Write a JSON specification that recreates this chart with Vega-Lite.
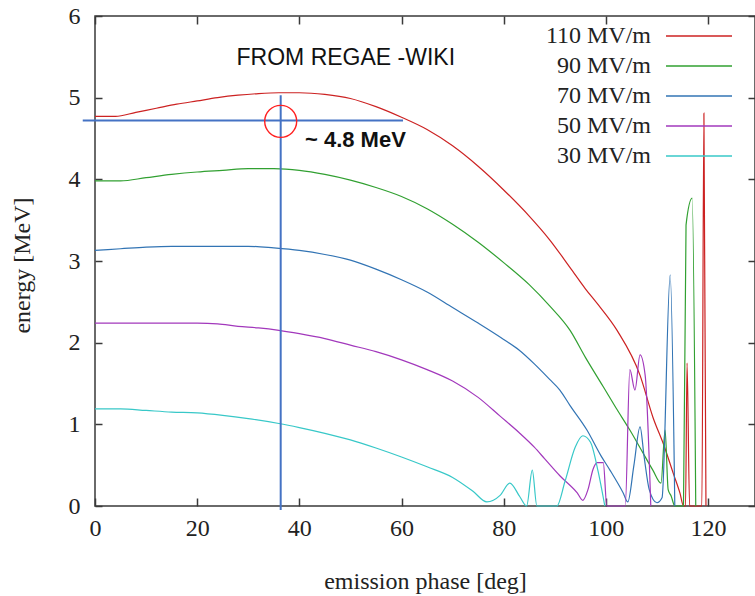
{
  "$schema": "https://vega.github.io/schema/vega-lite/v6.json",
  "width": 660,
  "height": 490,
  "autosize": {"type": "none"},
  "padding": {"left": 95, "top": 16, "right": 0, "bottom": 90},
  "background": "white",
  "config": {
    "view": {"stroke": "#3a3a3a", "strokeWidth": 1.5},
    "axis": {"grid": false, "domain": false, "tickColor": "#3a3a3a", "tickWidth": 1.5},
    "font": "Liberation Serif"
  },
  "resolve": {"axis": {"x": "independent", "y": "independent"}},
  "layer": [
    {
      "data": {
        "values": [
          {"p": 0, "e": 4.77, "s": "110 MV/m"}, {"p": 4, "e": 4.77, "s": "110 MV/m"}, {"p": 8, "e": 4.82, "s": "110 MV/m"},
          {"p": 12, "e": 4.87, "s": "110 MV/m"}, {"p": 16, "e": 4.92, "s": "110 MV/m"}, {"p": 20, "e": 4.96, "s": "110 MV/m"},
          {"p": 24, "e": 5.0, "s": "110 MV/m"}, {"p": 28, "e": 5.03, "s": "110 MV/m"}, {"p": 32, "e": 5.05, "s": "110 MV/m"},
          {"p": 36, "e": 5.06, "s": "110 MV/m"}, {"p": 40, "e": 5.06, "s": "110 MV/m"}, {"p": 45, "e": 5.04, "s": "110 MV/m"},
          {"p": 50, "e": 4.99, "s": "110 MV/m"}, {"p": 55, "e": 4.89, "s": "110 MV/m"}, {"p": 60, "e": 4.76, "s": "110 MV/m"},
          {"p": 65, "e": 4.61, "s": "110 MV/m"}, {"p": 70, "e": 4.41, "s": "110 MV/m"}, {"p": 75, "e": 4.16, "s": "110 MV/m"},
          {"p": 80, "e": 3.87, "s": "110 MV/m"}, {"p": 85, "e": 3.55, "s": "110 MV/m"}, {"p": 89, "e": 3.26, "s": "110 MV/m"},
          {"p": 93, "e": 2.92, "s": "110 MV/m"}, {"p": 96, "e": 2.66, "s": "110 MV/m"}, {"p": 98.3, "e": 2.48, "s": "110 MV/m"},
          {"p": 102.2, "e": 2.15, "s": "110 MV/m"}, {"p": 106.7, "e": 1.6, "s": "110 MV/m"}, {"p": 109.2, "e": 1.09, "s": "110 MV/m"},
          {"p": 111.5, "e": 0.72, "s": "110 MV/m"}, {"p": 113.2, "e": 0.4, "s": "110 MV/m"}, {"p": 114.5, "e": 0.16, "s": "110 MV/m"},
          {"p": 115.2, "e": 0, "s": "110 MV/m"}, {"p": 115.6, "e": 0, "s": "110 MV/m"}, {"p": 115.9, "e": 1.75, "s": "110 MV/m"},
          {"p": 116.4, "e": 0, "s": "110 MV/m"}, {"p": 118.8, "e": 0, "s": "110 MV/m"}, {"p": 119.2, "e": 4.81, "s": "110 MV/m"},
          {"p": 119.6, "e": 0, "s": "110 MV/m"},

          {"p": 0, "e": 3.98, "s": "90 MV/m"}, {"p": 5, "e": 3.98, "s": "90 MV/m"}, {"p": 10, "e": 4.02, "s": "90 MV/m"},
          {"p": 15, "e": 4.06, "s": "90 MV/m"}, {"p": 20, "e": 4.09, "s": "90 MV/m"}, {"p": 25, "e": 4.11, "s": "90 MV/m"},
          {"p": 30, "e": 4.13, "s": "90 MV/m"}, {"p": 35, "e": 4.13, "s": "90 MV/m"}, {"p": 40, "e": 4.11, "s": "90 MV/m"},
          {"p": 45, "e": 4.06, "s": "90 MV/m"}, {"p": 50, "e": 3.99, "s": "90 MV/m"}, {"p": 55, "e": 3.9, "s": "90 MV/m"},
          {"p": 60, "e": 3.79, "s": "90 MV/m"}, {"p": 65, "e": 3.64, "s": "90 MV/m"}, {"p": 70, "e": 3.45, "s": "90 MV/m"},
          {"p": 75, "e": 3.23, "s": "90 MV/m"}, {"p": 80, "e": 2.98, "s": "90 MV/m"}, {"p": 85, "e": 2.71, "s": "90 MV/m"},
          {"p": 89, "e": 2.45, "s": "90 MV/m"}, {"p": 93, "e": 2.15, "s": "90 MV/m"}, {"p": 96, "e": 1.82, "s": "90 MV/m"},
          {"p": 99.5, "e": 1.46, "s": "90 MV/m"}, {"p": 102, "e": 1.2, "s": "90 MV/m"}, {"p": 104.7, "e": 0.93, "s": "90 MV/m"},
          {"p": 107, "e": 0.68, "s": "90 MV/m"}, {"p": 109.2, "e": 0.44, "s": "90 MV/m"}, {"p": 110.8, "e": 0.28, "s": "90 MV/m"},
          {"p": 111.6, "e": 0.93, "s": "90 MV/m"}, {"p": 112.2, "e": 0.2, "s": "90 MV/m"}, {"p": 112.8, "e": 0.12, "s": "90 MV/m"},
          {"p": 113.5, "e": 0, "s": "90 MV/m"}, {"p": 115.2, "e": 0, "s": "90 MV/m"}, {"p": 115.7, "e": 3.44, "s": "90 MV/m"},
          {"p": 116.9, "e": 3.77, "s": "90 MV/m"}, {"p": 117.6, "e": 0, "s": "90 MV/m"},

          {"p": 0, "e": 3.13, "s": "70 MV/m"}, {"p": 5, "e": 3.15, "s": "70 MV/m"}, {"p": 10, "e": 3.17, "s": "70 MV/m"},
          {"p": 15, "e": 3.18, "s": "70 MV/m"}, {"p": 20, "e": 3.18, "s": "70 MV/m"}, {"p": 25, "e": 3.18, "s": "70 MV/m"},
          {"p": 30, "e": 3.18, "s": "70 MV/m"}, {"p": 35, "e": 3.16, "s": "70 MV/m"}, {"p": 40, "e": 3.13, "s": "70 MV/m"},
          {"p": 45, "e": 3.08, "s": "70 MV/m"}, {"p": 50, "e": 3.01, "s": "70 MV/m"}, {"p": 55, "e": 2.9, "s": "70 MV/m"},
          {"p": 60, "e": 2.77, "s": "70 MV/m"}, {"p": 65, "e": 2.62, "s": "70 MV/m"}, {"p": 70, "e": 2.43, "s": "70 MV/m"},
          {"p": 75, "e": 2.24, "s": "70 MV/m"}, {"p": 80, "e": 2.04, "s": "70 MV/m"}, {"p": 83, "e": 1.91, "s": "70 MV/m"},
          {"p": 86, "e": 1.74, "s": "70 MV/m"}, {"p": 89, "e": 1.55, "s": "70 MV/m"}, {"p": 91, "e": 1.42, "s": "70 MV/m"},
          {"p": 93, "e": 1.23, "s": "70 MV/m"}, {"p": 96.3, "e": 0.93, "s": "70 MV/m"}, {"p": 99, "e": 0.62, "s": "70 MV/m"},
          {"p": 100.8, "e": 0.44, "s": "70 MV/m"}, {"p": 103.4, "e": 0.16, "s": "70 MV/m"}, {"p": 104.3, "e": 0.05, "s": "70 MV/m"},
          {"p": 105.5, "e": 0.5, "s": "70 MV/m"}, {"p": 106.7, "e": 0.97, "s": "70 MV/m"}, {"p": 107.5, "e": 0.6, "s": "70 MV/m"},
          {"p": 108.5, "e": 0.2, "s": "70 MV/m"}, {"p": 110, "e": 0.04, "s": "70 MV/m"}, {"p": 111, "e": 0.1, "s": "70 MV/m"},
          {"p": 112.6, "e": 2.83, "s": "70 MV/m"}, {"p": 113.5, "e": 0, "s": "70 MV/m"},

          {"p": 0, "e": 2.24, "s": "50 MV/m"}, {"p": 5, "e": 2.24, "s": "50 MV/m"}, {"p": 10, "e": 2.24, "s": "50 MV/m"},
          {"p": 15, "e": 2.24, "s": "50 MV/m"}, {"p": 20, "e": 2.24, "s": "50 MV/m"}, {"p": 24, "e": 2.23, "s": "50 MV/m"},
          {"p": 28, "e": 2.2, "s": "50 MV/m"}, {"p": 32, "e": 2.18, "s": "50 MV/m"}, {"p": 36, "e": 2.15, "s": "50 MV/m"},
          {"p": 40, "e": 2.11, "s": "50 MV/m"}, {"p": 45, "e": 2.05, "s": "50 MV/m"}, {"p": 50, "e": 1.97, "s": "50 MV/m"},
          {"p": 55, "e": 1.89, "s": "50 MV/m"}, {"p": 60, "e": 1.79, "s": "50 MV/m"}, {"p": 65, "e": 1.67, "s": "50 MV/m"},
          {"p": 70, "e": 1.53, "s": "50 MV/m"}, {"p": 75, "e": 1.33, "s": "50 MV/m"}, {"p": 79.3, "e": 1.1, "s": "50 MV/m"},
          {"p": 83, "e": 0.9, "s": "50 MV/m"}, {"p": 86, "e": 0.72, "s": "50 MV/m"}, {"p": 88, "e": 0.58, "s": "50 MV/m"},
          {"p": 91, "e": 0.37, "s": "50 MV/m"}, {"p": 94.4, "e": 0.16, "s": "50 MV/m"}, {"p": 95.5, "e": 0.07, "s": "50 MV/m"},
          {"p": 96.5, "e": 0.2, "s": "50 MV/m"}, {"p": 97.5, "e": 0.45, "s": "50 MV/m"}, {"p": 98.3, "e": 0.53, "s": "50 MV/m"},
          {"p": 99.5, "e": 0.53, "s": "50 MV/m"}, {"p": 100.2, "e": 0, "s": "50 MV/m"}, {"p": 103.8, "e": 0, "s": "50 MV/m"},
          {"p": 104.7, "e": 1.67, "s": "50 MV/m"}, {"p": 105.7, "e": 1.42, "s": "50 MV/m"}, {"p": 106.7, "e": 1.85, "s": "50 MV/m"},
          {"p": 107.7, "e": 1.6, "s": "50 MV/m"}, {"p": 108.8, "e": 0, "s": "50 MV/m"},

          {"p": 0, "e": 1.19, "s": "30 MV/m"}, {"p": 5, "e": 1.19, "s": "30 MV/m"}, {"p": 10, "e": 1.17, "s": "30 MV/m"},
          {"p": 15, "e": 1.15, "s": "30 MV/m"}, {"p": 20, "e": 1.14, "s": "30 MV/m"}, {"p": 25, "e": 1.11, "s": "30 MV/m"},
          {"p": 30, "e": 1.07, "s": "30 MV/m"}, {"p": 36, "e": 1.01, "s": "30 MV/m"}, {"p": 40, "e": 0.96, "s": "30 MV/m"},
          {"p": 45, "e": 0.89, "s": "30 MV/m"}, {"p": 50, "e": 0.81, "s": "30 MV/m"}, {"p": 55, "e": 0.71, "s": "30 MV/m"},
          {"p": 60, "e": 0.6, "s": "30 MV/m"}, {"p": 65, "e": 0.48, "s": "30 MV/m"}, {"p": 70, "e": 0.35, "s": "30 MV/m"},
          {"p": 74, "e": 0.18, "s": "30 MV/m"}, {"p": 76.7, "e": 0.05, "s": "30 MV/m"}, {"p": 79.3, "e": 0.13, "s": "30 MV/m"},
          {"p": 81.2, "e": 0.28, "s": "30 MV/m"}, {"p": 83.2, "e": 0.11, "s": "30 MV/m"}, {"p": 84.5, "e": 0, "s": "30 MV/m"},
          {"p": 85.6, "e": 0.44, "s": "30 MV/m"}, {"p": 86.5, "e": 0, "s": "30 MV/m"}, {"p": 90.4, "e": 0, "s": "30 MV/m"},
          {"p": 92, "e": 0.3, "s": "30 MV/m"}, {"p": 94, "e": 0.72, "s": "30 MV/m"}, {"p": 95.5, "e": 0.86, "s": "30 MV/m"},
          {"p": 97, "e": 0.78, "s": "30 MV/m"}, {"p": 98.5, "e": 0.42, "s": "30 MV/m"}, {"p": 99.8, "e": 0, "s": "30 MV/m"}
        ]
      },
      "mark": {"type": "line", "strokeWidth": 1.2, "interpolate": "monotone"},
      "encoding": {
        "x": {
          "field": "p", "type": "quantitative",
          "scale": {"domain": [0, 129.2], "nice": false, "zero": false},
          "axis": {
            "orient": "bottom", "values": [0, 20, 40, 60, 80, 100, 120], "tickSize": -8,
            "labelFont": "Liberation Serif", "labelFontSize": 24, "labelColor": "#222", "labelPadding": 18,
            "labelFlush": false, "labelOverlap": false,
            "title": "emission phase [deg]", "titleFont": "Liberation Serif", "titleFontSize": 24,
            "titleFontWeight": "normal", "titleColor": "#222", "titleY": 82, "titleBaseline": "alphabetic"
          }
        },
        "y": {
          "field": "e", "type": "quantitative",
          "scale": {"domain": [0, 6], "nice": false},
          "axis": {
            "orient": "left", "values": [0, 1, 2, 3, 4, 5, 6], "tickSize": -7,
            "labelFont": "Liberation Serif", "labelFontSize": 24, "labelColor": "#222", "labelPadding": 22,
            "labelFlush": false, "labelOverlap": false,
            "title": "energy [MeV]", "titleFont": "Liberation Serif", "titleFontSize": 24,
            "titleFontWeight": "normal", "titleColor": "#222", "titleX": -66, "titleY": 249, "titleBaseline": "alphabetic"
          }
        },
        "color": {
          "field": "s", "type": "nominal",
          "scale": {
            "domain": ["110 MV/m", "90 MV/m", "70 MV/m", "50 MV/m", "30 MV/m"],
            "range": ["#cc2222", "#31a031", "#3274b4", "#a238bc", "#38c8c8"]
          },
          "legend": {
            "orient": "none", "legendX": 592, "legendY": 8, "title": null, "padding": 0,
            "symbolType": "M-3,0H3", "symbolSize": 484, "symbolStrokeWidth": 1.5,
            "labelFont": "Liberation Serif", "labelFontSize": 24, "labelColor": "#222",
            "labelAlign": "right", "labelOffset": -60, "labelLimit": 0, "rowPadding": 6
          }
        }
      }
    },
    {
      "data": {"values": [{}]},
      "mark": {"type": "rule", "color": "#4472c4", "strokeWidth": 2},
      "encoding": {
        "x": {
          "datum": -2.4, "type": "quantitative",
          "scale": {"domain": [0, 129.2], "nice": false, "zero": false},
          "axis": {"orient": "top", "values": [0, 20, 40, 60, 80, 100, 120], "tickSize": -8, "labels": false, "title": null}
        },
        "x2": {"datum": 60.3},
        "y": {
          "datum": 4.72, "type": "quantitative",
          "scale": {"domain": [0, 6], "nice": false},
          "axis": {"orient": "right", "values": [0, 1, 2, 3, 4, 5, 6], "tickSize": -7, "labels": false, "title": null}
        }
      }
    },
    {
      "data": {"values": [{}]},
      "mark": {"type": "rule", "color": "#4472c4", "strokeWidth": 2},
      "encoding": {
        "x": {"datum": 36.35, "type": "quantitative", "axis": null},
        "y": {"datum": -0.05, "type": "quantitative", "axis": null},
        "y2": {"datum": 5.03}
      }
    },
    {
      "data": {"values": [{}]},
      "mark": {"type": "point", "shape": "circle", "size": 1024, "filled": false, "color": "#ff2020", "strokeWidth": 1.4, "opacity": 1},
      "encoding": {
        "x": {"datum": 36.35, "type": "quantitative", "axis": null},
        "y": {"datum": 4.71, "type": "quantitative", "axis": null}
      }
    },
    {
      "data": {"values": [{}]},
      "mark": {"type": "text", "text": "FROM REGAE -WIKI", "font": "Liberation Sans", "fontSize": 23, "align": "center", "baseline": "alphabetic", "color": "#111"},
      "encoding": {
        "x": {"datum": 49.1, "type": "quantitative", "axis": null},
        "y": {"datum": 5.4, "type": "quantitative", "axis": null}
      }
    },
    {
      "data": {"values": [{}]},
      "mark": {"type": "text", "text": "~ 4.8 MeV", "font": "Liberation Sans", "fontSize": 22, "fontWeight": "bold", "align": "left", "baseline": "alphabetic", "color": "#111"},
      "encoding": {
        "x": {"datum": 41.1, "type": "quantitative", "axis": null},
        "y": {"datum": 4.39, "type": "quantitative", "axis": null}
      }
    }
  ]
}
